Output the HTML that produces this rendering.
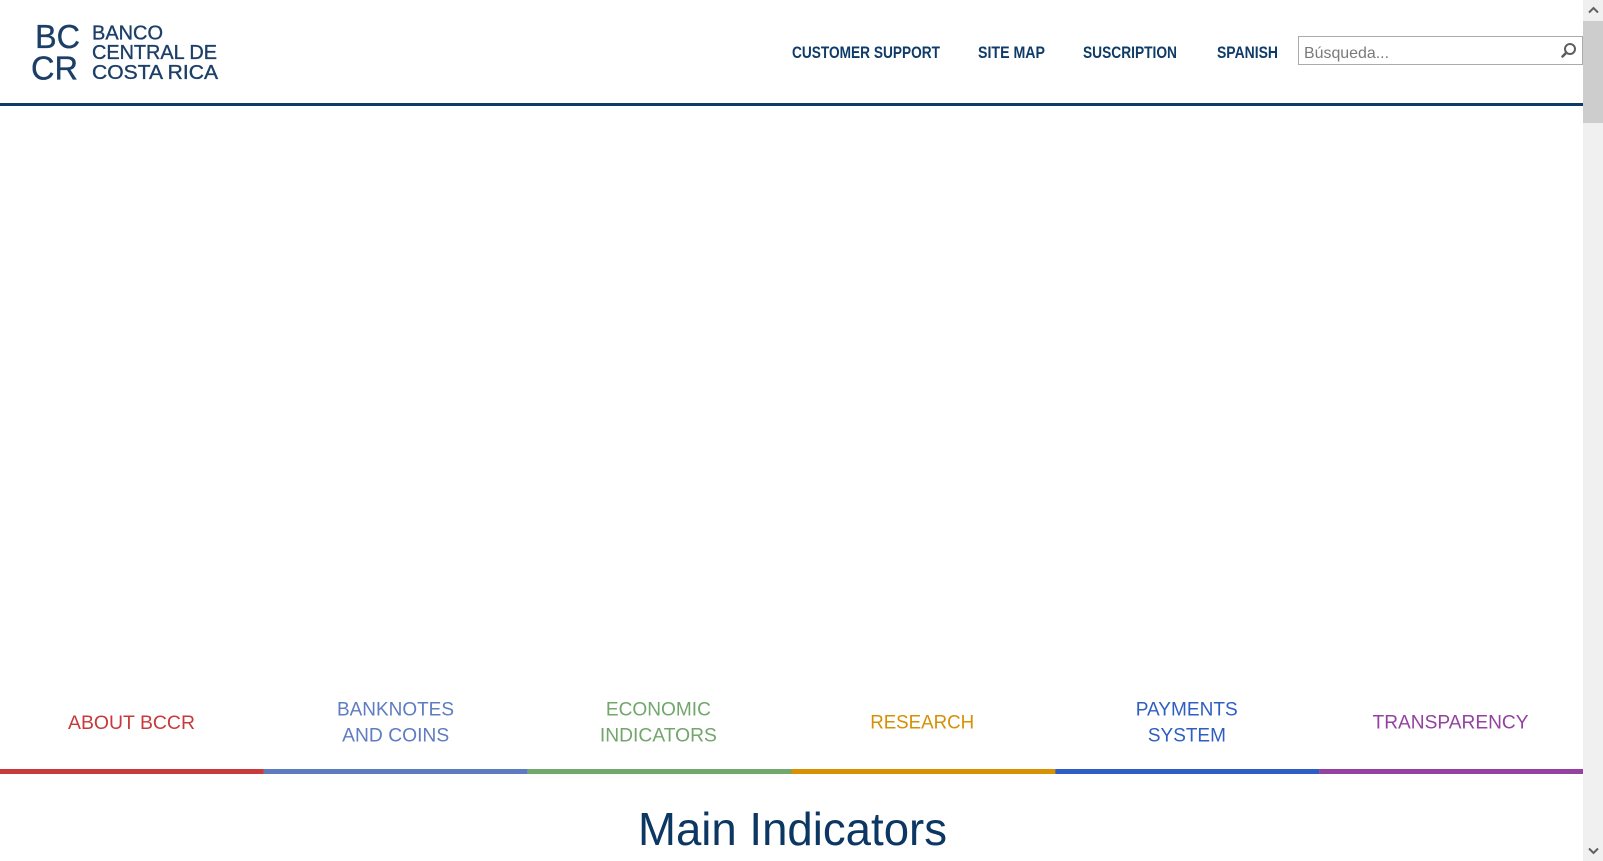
<!DOCTYPE html>
<html>
<head>
<meta charset="utf-8">
<style>
  html, body { margin: 0; padding: 0; background: #ffffff; width: 1603px; height: 861px; overflow: hidden; }
  svg { display: block; }
  .logo { font-family: "Liberation Sans", Arial, sans-serif; fill: #1c3f68; stroke: #1c3f68; stroke-width: 0.35; }
  .nav { font-family: "Liberation Sans", Arial, sans-serif; font-weight: bold; font-size: 17px; fill: #0f3b69; }
  .cat { font-family: "Liberation Sans", Arial, sans-serif; font-size: 19px; }
</style>
</head>
<body>
<svg width="1603" height="861" viewBox="0 0 1603 861" xmlns="http://www.w3.org/2000/svg">
  <rect x="0" y="0" width="1603" height="861" fill="#ffffff"/>

  <!-- Logo -->
  <text class="logo" x="35" y="48" font-size="33" textLength="45" lengthAdjust="spacingAndGlyphs">BC</text>
  <text class="logo" x="31" y="79.5" font-size="33" textLength="47" lengthAdjust="spacingAndGlyphs">CR</text>
  <text class="logo" x="92" y="39.5" font-size="20" textLength="71" lengthAdjust="spacingAndGlyphs">BANCO</text>
  <text class="logo" x="92" y="59" font-size="20" textLength="125" lengthAdjust="spacingAndGlyphs">CENTRAL DE</text>
  <text class="logo" x="92" y="79" font-size="20" textLength="126" lengthAdjust="spacingAndGlyphs">COSTA RICA</text>

  <!-- Top nav -->
  <text class="nav" x="792" y="58" textLength="148" lengthAdjust="spacingAndGlyphs">CUSTOMER SUPPORT</text>
  <text class="nav" x="978" y="58" textLength="67" lengthAdjust="spacingAndGlyphs">SITE MAP</text>
  <text class="nav" x="1083" y="58" textLength="94" lengthAdjust="spacingAndGlyphs">SUSCRIPTION</text>
  <text class="nav" x="1217" y="58" textLength="61" lengthAdjust="spacingAndGlyphs">SPANISH</text>

  <!-- Search box -->
  <rect x="1298.5" y="36.5" width="284" height="28" fill="#ffffff" stroke="#ababab" stroke-width="1"/>
  <text x="1304" y="58" font-family="Liberation Sans, Arial, sans-serif" font-size="16" fill="#7a7a7a" textLength="85" lengthAdjust="spacingAndGlyphs">Búsqueda...</text>
  <circle cx="1570" cy="49" r="5" fill="none" stroke="#5e5e5e" stroke-width="2"/>
  <line x1="1566.3" y1="52.7" x2="1562.5" y2="56.5" stroke="#5e5e5e" stroke-width="2.6" stroke-linecap="round"/>

  <!-- Header rule -->
  <rect x="0" y="103" width="1583" height="3" fill="#0e3a66"/>

  <!-- Category labels -->
  <text class="cat" x="131.5" y="729" text-anchor="middle" fill="#c8393b" textLength="127" lengthAdjust="spacingAndGlyphs">ABOUT BCCR</text>

  <text class="cat" x="395.5" y="715.5" text-anchor="middle" fill="#5d7cc1" textLength="117" lengthAdjust="spacingAndGlyphs">BANKNOTES</text>
  <text class="cat" x="395.7" y="741.5" text-anchor="middle" fill="#5d7cc1" textLength="107" lengthAdjust="spacingAndGlyphs">AND COINS</text>

  <text class="cat" x="658.4" y="715.5" text-anchor="middle" fill="#72a66b" textLength="105" lengthAdjust="spacingAndGlyphs">ECONOMIC</text>
  <text class="cat" x="658.4" y="741.5" text-anchor="middle" fill="#72a66b" textLength="117" lengthAdjust="spacingAndGlyphs">INDICATORS</text>

  <text class="cat" x="922.2" y="728.5" text-anchor="middle" fill="#d69004" textLength="104" lengthAdjust="spacingAndGlyphs">RESEARCH</text>

  <text class="cat" x="1186.7" y="715.5" text-anchor="middle" fill="#2f5ec2" textLength="102" lengthAdjust="spacingAndGlyphs">PAYMENTS</text>
  <text class="cat" x="1186.9" y="741.5" text-anchor="middle" fill="#2f5ec2" textLength="78" lengthAdjust="spacingAndGlyphs">SYSTEM</text>

  <text class="cat" x="1450.5" y="728.5" text-anchor="middle" fill="#9442a2" textLength="156" lengthAdjust="spacingAndGlyphs">TRANSPARENCY</text>

  <!-- Category bars -->
  <rect x="0" y="769" width="263.9" height="5" fill="#c83a3b"/>
  <rect x="263.8" y="769" width="263.9" height="5" fill="#5f7bbf"/>
  <rect x="527.6" y="769" width="263.9" height="5" fill="#72a86b"/>
  <rect x="791.5" y="769" width="263.9" height="5" fill="#d89100"/>
  <rect x="1055.3" y="769" width="263.9" height="5" fill="#2e5ec3"/>
  <rect x="1319.1" y="769" width="263.9" height="5" fill="#9441a2"/>

  <!-- Main heading -->
  <text x="792.5" y="845" text-anchor="middle" font-family="Liberation Sans, Arial, sans-serif" font-size="46" fill="#0c3763" stroke="#ffffff" stroke-width="0.6" paint-order="stroke" textLength="309" lengthAdjust="spacingAndGlyphs">Main Indicators</text>

  <!-- Scrollbar -->
  <rect x="1583" y="0" width="20" height="861" fill="#f0f0f0"/>
  <rect x="1583" y="21" width="20" height="102" fill="#cdcdcd"/>
  <polyline points="1589,12.5 1593.5,8 1598,12.5" fill="none" stroke="#606060" stroke-width="2"/>
  <polyline points="1589,848.5 1593.5,853 1598,848.5" fill="none" stroke="#606060" stroke-width="2"/>
</svg>
</body>
</html>
